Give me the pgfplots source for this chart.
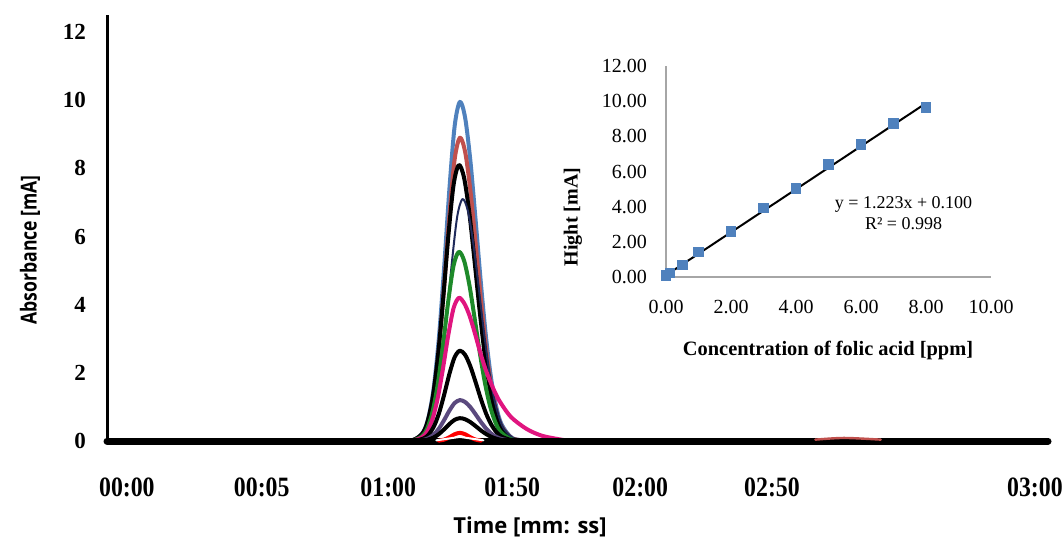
\documentclass[border=0pt]{standalone}
\usepackage{fontspec}
\setmainfont{Liberation Serif}
\newfontfamily\labelfont{Open Sans}
\usepackage{graphicx}
\usepackage{pgfplots}
\pgfplotsset{compat=1.18}

\definecolor{pkblue}{HTML}{4F81BD}
\definecolor{pkred}{HTML}{C0504D}
\definecolor{pknavy}{HTML}{1F2A5A}
\definecolor{pkgreen}{HTML}{1E8A2A}
\definecolor{pkmagenta}{HTML}{E0157F}
\definecolor{pkpurple}{HTML}{5B4A7E}
\definecolor{insetgrey}{HTML}{A6A6A6}

\begin{document}
\begin{tikzpicture}
\useasboundingbox (0,0) rectangle (531.5pt,270.5pt);

% chromatograms
\begin{axis}[
    at={(53.5pt,50pt)}, anchor=south west, scale only axis,
    width=470.5pt, height=213pt,
    xmin=0, xmax=180, ymin=0, ymax=12.5,
    axis x line=bottom, axis y line=left,
    x axis line style={-, line width=3pt},
    y axis line style={-, line width=1.5pt},
    major tick length=0pt,
    xtick={3.8,29.6,53.8,77.5,102,127.2,177.5},
    xticklabels={00:00,00:05,01:00,01:50,02:00,02:50,03:00},
    ytick={0,2,...,12},
    xticklabel style={font=\fontsize{14}{16}\selectfont\bfseries, xscale=0.85, yshift=-15pt},
    yticklabel style={font=\fontsize{11.5}{13}\selectfont\bfseries, xshift=-7pt},
    /pgf/number format/assume math mode=true,
    clip=false,
    every axis plot/.append style={smooth, line join=round, line cap=round},
]
\addplot[pkblue, line width=2pt] coordinates {
(54.5,0)(58.5,0.025)(60.5,0.266)(61.5,0.695)(62.5,1.566)(63.5,3.048)(64.5,5.113)(65.5,7.402)(66.5,9.241)(67.5,9.95)
(68.5,9.490)(69.5,8.234)(70.5,6.498)(71.5,4.666)(72.5,3.047)(73.5,1.810)(74.5,0.978)(75.5,0.481)(77.5,0.088)(80.5,0.003)};
\addplot[pkred, line width=2pt] coordinates {
(54.5,0)(58.5,0.022)(60.5,0.238)(61.5,0.621)(62.5,1.401)(63.5,2.726)(64.5,4.574)(65.5,6.621)(66.5,8.265)(67.5,8.9)
(68.5,8.489)(69.5,7.365)(70.5,5.813)(71.5,4.173)(72.5,2.725)(73.5,1.619)(74.5,0.875)(75.5,0.430)(77.5,0.078)(80.5,0.003)};
\addplot[black, line width=2pt] coordinates {
(54.3,0)(58.3,0.020)(60.3,0.216)(61.3,0.565)(62.3,1.275)(63.3,2.481)(64.3,4.163)(65.3,6.026)(66.3,7.522)(67.3,8.1)
(68.3,7.726)(69.3,6.703)(70.3,5.290)(71.3,3.798)(72.3,2.480)(73.3,1.473)(74.3,0.796)(75.3,0.391)(77.3,0.071)(80.3,0.002)};
\addplot[pknavy, line width=1pt] coordinates {
(55,0)(59,0.018)(61,0.190)(62,0.496)(63,1.118)(64,2.175)(65,3.649)(66,5.282)(67,6.594)(68,7.1)
(69,6.772)(70,5.875)(71,4.637)(72,3.329)(73,2.174)(74,1.291)(75,0.698)(76,0.343)(78,0.062)(81,0.002)};
\addplot[pkgreen, line width=2pt] coordinates {
(54.3,0)(58.3,0.014)(60.3,0.148)(61.3,0.387)(62.3,0.874)(63.3,1.700)(64.3,2.852)(65.3,4.129)(66.3,5.154)(67.3,5.55)
(68.3,5.294)(69.3,4.593)(70.3,3.625)(71.3,2.602)(72.3,1.699)(73.3,1.010)(74.3,0.546)(75.3,0.268)(77.3,0.049)(80.3,0.002)};
\addplot[pkmagenta, line width=2pt] coordinates {
(54.3,0)(58.3,0.011)(60.3,0.112)(61.3,0.293)(62.3,0.661)(63.3,1.286)(64.3,2.158)(65.3,3.124)(66.3,3.901)(67.3,4.2)
(68.3,4.05)(69.3,3.70)(70.3,3.20)(71.3,2.65)(72.3,2.15)(73.3,1.75)(74.3,1.40)(75.3,1.12)(77.3,0.70)(80.3,0.35)(83.3,0.15)(87.3,0.03)};
\addplot[black, line width=2pt] coordinates {
(54.5,0)(58.5,0.007)(60.5,0.071)(61.5,0.185)(62.5,0.417)(63.5,0.812)(64.5,1.362)(65.5,1.971)(66.5,2.461)(67.5,2.65)
(68.5,2.528)(69.5,2.193)(70.5,1.731)(71.5,1.243)(72.5,0.811)(73.5,0.482)(74.5,0.260)(75.5,0.128)(77.5,0.023)(80.5,0.001)};
\addplot[pkpurple, line width=2pt] coordinates {
(54.5,0)(58.5,0.003)(60.5,0.032)(61.5,0.084)(62.5,0.189)(63.5,0.368)(64.5,0.617)(65.5,0.893)(66.5,1.114)(67.5,1.2)
(68.5,1.145)(69.5,0.993)(70.5,0.784)(71.5,0.563)(72.5,0.367)(73.5,0.218)(74.5,0.118)(75.5,0.058)(77.5,0.011)(80.5,0)};
\addplot[black, line width=2pt] coordinates {
(54.5,0)(58.5,0.002)(60.5,0.018)(61.5,0.047)(62.5,0.105)(63.5,0.205)(64.5,0.344)(65.5,0.498)(66.5,0.622)(67.5,0.67)
(68.5,0.639)(69.5,0.554)(70.5,0.438)(71.5,0.314)(72.5,0.205)(73.5,0.122)(74.5,0.066)(75.5,0.032)(77.5,0.006)(80.5,0)};
% baseline
\addplot[black, line width=3.5pt, sharp plot] coordinates {(0,0)(180,0)};
\addplot[red, line width=2pt] coordinates {
(63.5,0.011)(64.5,0.041)(65.5,0.110)(66.5,0.198)(67.5,0.24)
(68.5,0.198)(69.5,0.110)(70.5,0.041)(71.5,0.011)};
\addplot[white, line width=1pt, sharp plot] coordinates {(63,0.02)(67.5,0.12)(72,0.02)};
\addplot[pkred, line width=1.2pt] coordinates {(135.5,0.04)(141,0.09)(148,0.04)};
\end{axis}

% axis titles of the chromatogram
\node[font=\labelfont\fontsize{11}{13}\selectfont\bfseries] at (265pt,7pt) {Time [mm: ss]};
\node[font=\labelfont\fontsize{11}{13}\selectfont\bfseries, rotate=90] at (15pt,145.5pt) {\scalebox{0.8}[1]{Absorbance [mA]}};

% calibration inset
\begin{axis}[
    at={(333pt,132pt)}, anchor=south west, scale only axis,
    width=162.5pt, height=105.5pt,
    xmin=0, xmax=10, ymin=0, ymax=12,
    axis x line=bottom, axis y line=left,
    axis line style={-, insetgrey, line width=0.8pt},
    major tick length=0pt,
    xtick={0,2,...,10}, ytick={0,2,...,12},
    /pgf/number format/.cd, fixed, fixed zerofill, precision=2, assume math mode=true,
    /pgfplots/.cd,
    tick label style={font=\fontsize{10}{12}\selectfont},
    xticklabel style={yshift=-8pt},
    yticklabel style={xshift=-6pt},
    clip=false,
]
\addplot[black, line width=1pt] coordinates {(0,0.1)(8,9.884)};
\addplot[only marks, mark=square*, mark size=2.4pt, color=pkblue] coordinates {
(0,0.08)(0.12,0.23)(0.5,0.68)(1,1.42)(2,2.61)(3,3.94)(4,5.04)(5,6.40)(6,7.54)(7,8.75)(8,9.66)};
\node[font=\fontsize{9}{11}\selectfont] at (axis cs:7.31,4.15) {y = 1.223x + 0.100};
\node[font=\fontsize{9}{11}\selectfont] at (axis cs:7.31,3.01) {R² = 0.998};
\end{axis}
\node[font=\fontsize{10.2}{12}\selectfont\bfseries] at (414pt,95.5pt) {Concentration of folic acid [ppm]};
\node[font=\fontsize{10}{12}\selectfont\bfseries, rotate=90] at (286.5pt,162pt) {Hight [mA]};
\end{tikzpicture}
\end{document}
